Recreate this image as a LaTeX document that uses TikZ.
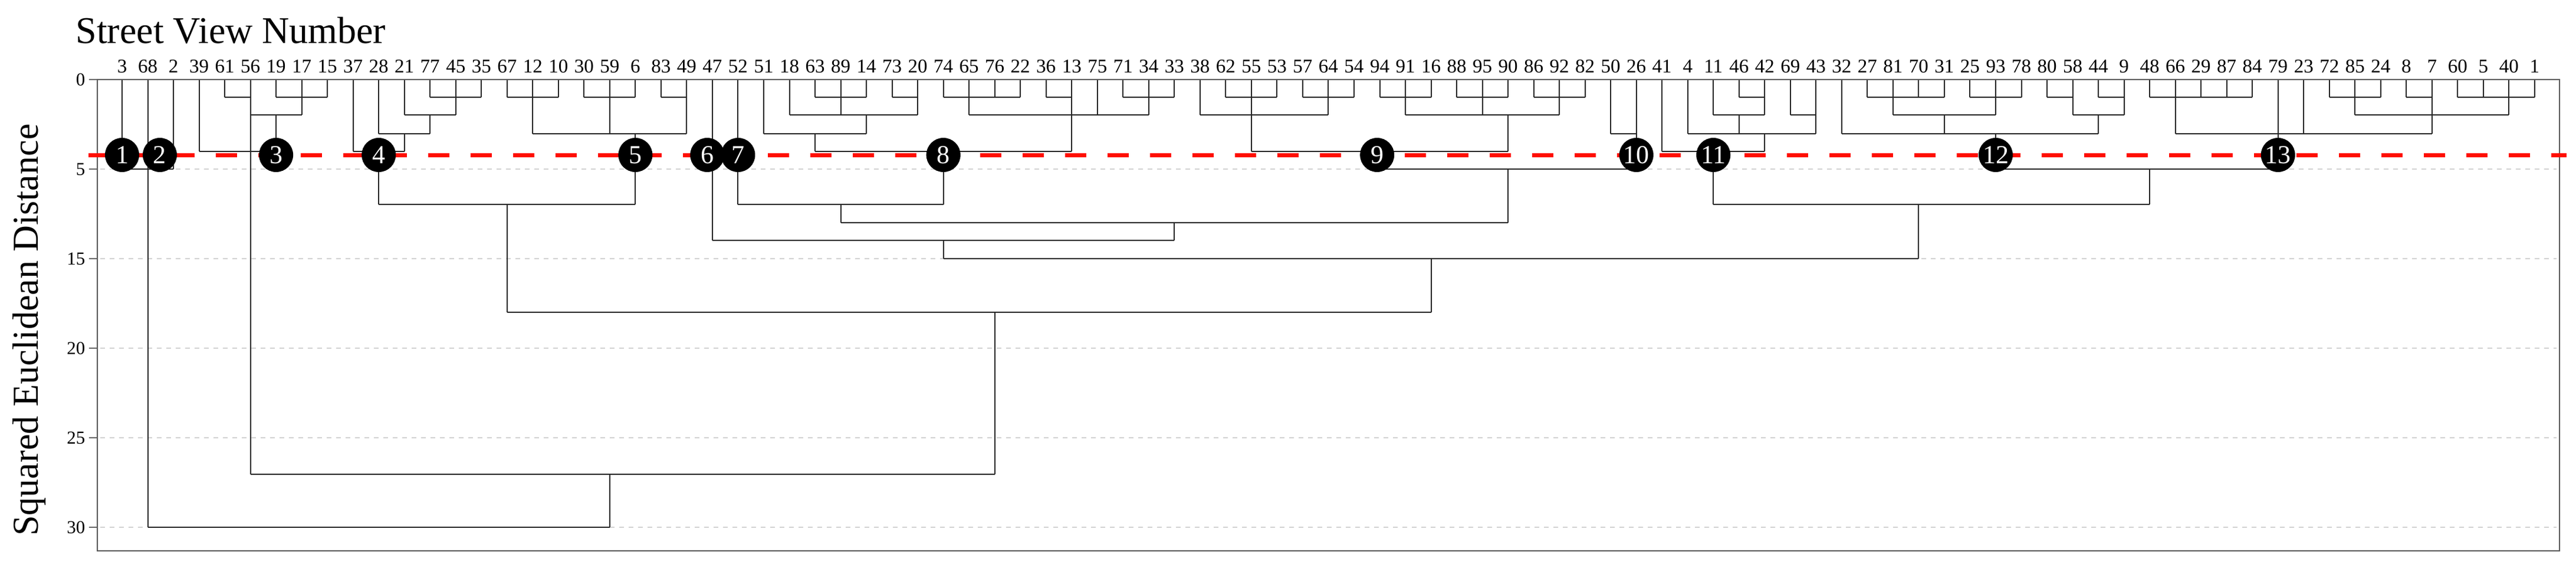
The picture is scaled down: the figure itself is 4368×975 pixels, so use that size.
\documentclass[tikz,border=0pt]{standalone}
\usepackage{fontspec}
\setmainfont{Liberation Serif}
\begin{document}
\begin{tikzpicture}[x=1pt,y=-1pt,
  dl/.style={line width=2pt,black!85},
  clu/.style={circle,fill=black,minimum size=58pt,inner sep=0pt,text=white,font=\fontsize{44}{44}\selectfont},
  leaf/.style={font=\fontsize{33}{33}\selectfont,anchor=center},
  tick/.style={font=\fontsize{31}{31}\selectfont,anchor=east}]
\useasboundingbox (0,0) rectangle (4368,975);
\newcommand{\vs}[3]{\draw[dl] ({207+43.52*(#1-1)},#2) -- ({207+43.52*(#1-1)},#3);}
\newcommand{\hs}[3]{\draw[dl] ({207+43.52*(#2-1)},#1) -- ({207+43.52*(#3-1)},#1);}
% grid and axis
\foreach \yy/\lab in {287/5,439/15,591/20,743/25,895/30}{
  \draw[gray!35,line width=1.5pt,dash pattern=on 8pt off 8pt] (170,\yy) -- (4335,\yy);
}
\foreach \yy/\lab in {135/0,287/5,439/15,591/20,743/25,895/30}{
  \draw[line width=2pt,gray!80!black] (151,\yy) -- (165,\yy);
  \node[tick] (t\lab) at (148,\yy) {\lab};
}
\node[font=\fontsize{64}{64}\selectfont,anchor=west] (title) at (125,52) {Street View Number};
\node[font=\fontsize{62}{62}\selectfont,rotate=90] (ytitle) at (50,560) {Squared Euclidean Distance};
% leaf labels
\foreach \n [count=\i] in {3,68,2,39,61,56,19,17,15,37,28,21,77,45,35,67,12,10,30,59,6,83,49,47,52,51,18,63,89,14,73,20,74,65,76,22,36,13,75,71,34,33,38,62,55,53,57,64,54,94,91,16,88,95,90,86,92,82,50,26,41,4,11,46,42,69,43,32,27,81,70,31,25,93,78,80,58,44,9,48,66,29,87,84,79,23,72,85,24,8,7,60,5,40,1}{
  \node[leaf] (l\i) at ({207+43.52*(\i-1)},113) {\n};
}
% cluster 1-3
\vs{1}{135}{287}\vs{3}{135}{287}\vs{2}{135}{895}\hs{287}{1}{3}
\vs{4}{135}{257}\hs{257}{4}{7}\vs{5}{135}{165}\hs{165}{5}{6}\vs{6}{135}{805}\hs{195}{6}{8}\vs{7}{135}{165}\vs{7}{195}{257}\hs{165}{7}{9}\vs{8}{135}{195}\vs{9}{135}{165}
% cluster 4
\vs{10}{135}{257}\hs{257}{10}{12}\vs{11}{135}{227}\vs{11}{257}{347}\vs{12}{135}{195}\vs{12}{227}{257}\hs{227}{11}{13}\vs{13}{135}{165}\vs{13}{195}{227}\hs{195}{12}{14}\vs{14}{135}{195}\hs{165}{13}{15}\vs{15}{135}{165}
% cluster 5
\hs{165}{16}{18}\vs{16}{135}{165}\vs{17}{135}{227}\vs{18}{135}{165}\hs{165}{19}{21}\vs{19}{135}{165}\vs{20}{135}{227}\vs{21}{135}{165}\hs{165}{22}{23}\vs{22}{135}{165}\vs{23}{135}{227}\hs{227}{17}{23}\vs{21}{227}{347}
\hs{347}{11}{21}\vs{16}{347}{530}
% cluster 6,7
\vs{24}{135}{408}\vs{25}{135}{347}
% cluster 8
\vs{26}{135}{227}\hs{227}{26}{30}\vs{27}{135}{195}\vs{28}{135}{165}\vs{29}{135}{195}\vs{30}{135}{165}\hs{165}{28}{30}\hs{195}{27}{32}\vs{31}{135}{165}\vs{32}{135}{195}\hs{165}{31}{32}\vs{30}{195}{227}\vs{28}{227}{257}\hs{257}{28}{38}
\vs{33}{135}{165}\hs{165}{33}{36}\vs{34}{135}{195}\vs{35}{135}{165}\vs{36}{135}{165}\vs{37}{135}{165}\hs{165}{37}{38}\vs{38}{135}{257}\hs{195}{34}{41}\vs{39}{135}{195}\vs{40}{135}{165}\vs{41}{135}{195}\vs{42}{135}{165}\hs{165}{40}{42}
\vs{33}{257}{347}\hs{347}{25}{33}\vs{29}{347}{378}
% cluster 9
\vs{43}{135}{195}\vs{44}{135}{165}\vs{45}{135}{257}\vs{46}{135}{165}\hs{165}{44}{46}\vs{47}{135}{165}\vs{48}{135}{195}\vs{49}{135}{165}\hs{165}{47}{49}\hs{195}{43}{48}\hs{257}{45}{55}
\hs{165}{50}{52}\vs{50}{135}{165}\vs{51}{135}{195}\vs{52}{135}{165}\hs{165}{53}{55}\vs{53}{135}{165}\vs{54}{135}{195}\vs{55}{135}{165}\hs{165}{56}{58}\vs{56}{135}{165}\vs{57}{135}{195}\vs{58}{135}{165}\hs{195}{51}{57}\vs{55}{195}{257}
\hs{287}{49.9}{60}\vs{55}{287}{378}
% cluster 10
\vs{59}{135}{227}\hs{227}{59}{60}\vs{60}{135}{287}
\hs{378}{29}{55}\vs{42}{378}{408}\hs{408}{24}{42}\vs{33}{408}{439}
% cluster 11
\vs{61}{135}{257}\hs{257}{61}{65}\vs{62}{135}{227}\hs{227}{62}{67}\vs{63}{135}{195}\hs{195}{63}{65}\vs{64}{135}{165}\vs{64}{195}{227}\hs{165}{64}{65}\vs{65}{135}{195}\vs{65}{227}{257}\vs{66}{135}{195}\vs{67}{135}{227}\hs{195}{66}{67}\vs{63}{257}{347}
% cluster 12
\vs{68}{135}{227}\vs{69}{135}{165}\vs{70}{135}{195}\vs{71}{135}{165}\vs{72}{135}{165}\hs{165}{69}{72}\vs{73}{135}{165}\vs{74}{135}{195}\vs{75}{135}{165}\hs{165}{73}{75}\hs{195}{70}{74}\vs{72}{195}{227}\vs{76}{135}{165}\vs{77}{135}{195}\hs{165}{76}{77}\vs{78}{135}{165}\vs{79}{135}{195}\hs{165}{78}{79}\hs{195}{77}{79}\vs{78}{195}{227}\hs{227}{68}{78}\vs{74}{227}{287}
% cluster 13
\vs{80}{135}{165}\vs{81}{135}{227}\vs{82}{135}{165}\vs{83}{135}{165}\vs{84}{135}{165}\hs{165}{80}{84}\vs{85}{135}{287}\vs{86}{135}{227}\vs{87}{135}{165}\vs{88}{135}{195}\vs{89}{135}{165}\hs{165}{87}{89}\vs{90}{135}{165}\vs{91}{135}{227}\hs{165}{90}{91}\vs{92}{135}{165}\vs{93}{135}{165}\vs{94}{135}{195}\vs{95}{135}{165}\hs{165}{92}{95}\hs{195}{88}{94}\hs{227}{81}{91}
% upper merges
\hs{287}{74}{85}\vs{80}{287}{347}\hs{347}{63}{80}\vs{71}{347}{439}
\hs{439}{33}{71}\vs{52}{439}{530}\hs{530}{16}{52}\vs{35}{530}{805}\hs{805}{6}{35}\vs{20}{805}{895}\hs{895}{2}{20}
% frame
\draw[line width=2.5pt,gray!70!black] (165,135) rectangle (4340,935);
% cut line
\draw[red!90!orange,line width=7pt,dash pattern=on 36pt off 36pt] (150,263) -- (4352,263);
% cluster markers
\foreach \c/\i in {1/1,2/2.47,3/7,4/11,5/21,6/23.8,7/25,8/33,9/49.9,10/60,11/63,12/74,13/85}{
  \node[clu] (c\c) at ({207+43.52*(\i-1)},263) {\c};
}
\end{tikzpicture}
\end{document}
